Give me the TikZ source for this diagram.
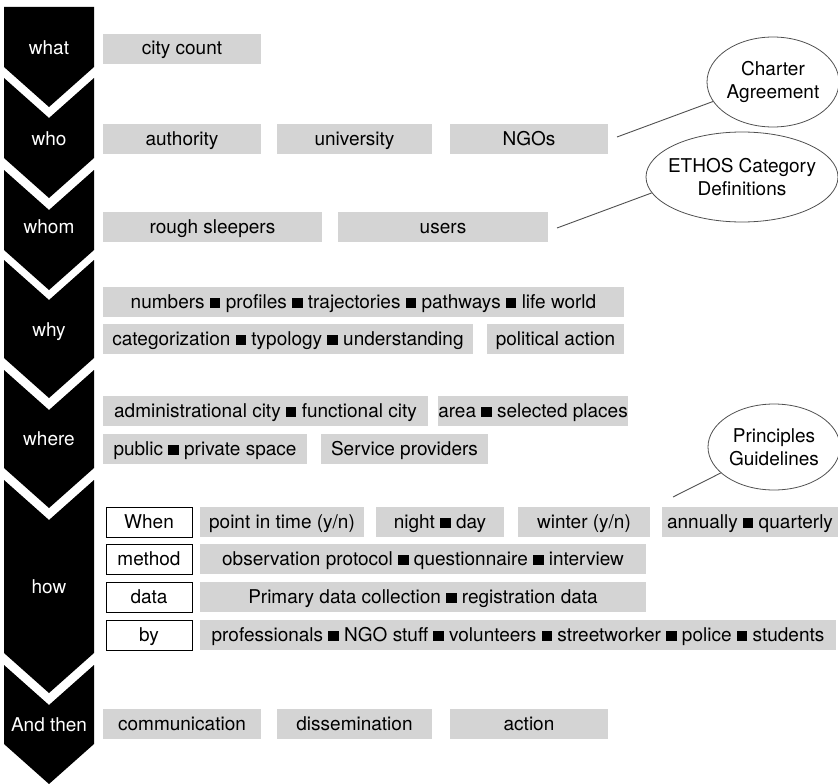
\documentclass[tikz,border=0pt]{standalone}
\usepackage{fontspec}
\setmainfont{TeX Gyre Heros}
\usetikzlibrary{shapes.geometric}
\definecolor{boxgray}{RGB}{212,212,212}
\definecolor{linegray}{RGB}{80,80,80}
\newcommand\blk{\rule{0.55em}{0.55em}}
\newcommand\chevblock[2]{\fill (4,#1) -- (49,#1+40) -- (94,#1) -- (94,#2) -- (49,#2+40) -- (4,#2) -- cycle;}
\begin{document}
\begin{tikzpicture}[x=1pt,y=-1pt,
  every node/.style={font=\fontsize{19}{23}\selectfont, inner sep=0pt},
  gbox/.style={fill=boxgray, minimum height=30pt, text height=16pt, text depth=4pt},
  wbox/.style={draw=black, line width=0.9pt, fill=white, minimum height=30pt, minimum width=86pt, text height=16pt, text depth=4pt},
  chevlabel/.style={text=white, text height=16pt, text depth=4pt},
  note/.style={ellipse, draw=linegray, line width=0.8pt, align=center},
  conn/.style={draw=linegray, line width=0.9pt}]
\useasboundingbox (0,0) rectangle (838,784);
% chevron column
\fill (4,7) -- (94,7) -- (94,67) -- (49,107) -- (4,67) -- cycle;
\chevblock{78}{158}
\chevblock{170}{250}
\chevblock{260}{358}
\chevblock{370}{468}
\chevblock{480}{653}
\chevblock{665}{744}
\node[chevlabel] (lwhat) at (49,49) {what};
\node[chevlabel] (lwho) at (49,139) {who};
\node[chevlabel] (lwhom) at (49,227) {whom};
\node[chevlabel] (lwhy) at (49,330) {why};
\node[chevlabel] (lwhere) at (49,439) {where};
\node[chevlabel] (lhow) at (49,587) {how};
\node[chevlabel] (lthen) at (49,725) {And then};
% what
\node[gbox, minimum width=158] (city) at (182,49) {city count};
% who
\node[gbox, minimum width=158] (auth) at (182,139) {authority};
\node[gbox, minimum width=155] (univ) at (354.5,139) {university};
\node[gbox, minimum width=158] (ngos) at (529,139) {NGOs};
% whom
\node[gbox, minimum width=219] (rough) at (212.5,227) {rough sleepers};
\node[gbox, minimum width=210] (users) at (443,227) {users};
% why
\node[gbox, minimum width=521] (numbers) at (363.5,302) {numbers \blk{} profiles \blk{} trajectories \blk{} pathways \blk{} life world};
\node[gbox, minimum width=370] (categ) at (288,339) {categorization \blk{} typology \blk{} understanding};
\node[gbox, minimum width=137] (polit) at (555.5,339) {political action};
% where
\node[gbox, minimum width=325] (admin) at (265.5,411) {administrational city \blk{} functional city};
\node[gbox, minimum width=182] (area) at (533,411) {area \blk{} selected places};
\node[gbox, minimum width=204] (public) at (205,449) {public \blk{} private space};
\node[gbox, minimum width=167] (service) at (404.5,449) {Service providers};
% how
\node[wbox] (when) at (149,522) {When};
\node[wbox] (method) at (149,559) {method};
\node[wbox] (data) at (149,597) {data};
\node[wbox] (by) at (149,635) {by};
\node[gbox, minimum width=164] (pit) at (282,522) {point in time (y/n)};
\node[gbox, minimum width=128] (nd) at (440,522) {night \blk{} day};
\node[gbox, minimum width=132] (winter) at (584,522) {winter (y/n)};
\node[gbox, minimum width=176] (annual) at (750,522) {annually \blk{} quarterly};
\node[gbox, minimum width=446] (obs) at (423,559) {observation protocol \blk{} questionnaire \blk{} interview};
\node[gbox, minimum width=446] (prim) at (423,597) {Primary data collection \blk{} registration data};
\node[gbox, minimum width=636] (prof) at (518,635) {professionals \blk{} NGO stuff \blk{} volunteers \blk{} streetworker \blk{} police \blk{} students};
% and then
\node[gbox, minimum width=158] (comm) at (182,724) {communication};
\node[gbox, minimum width=155] (diss) at (354.5,724) {dissemination};
\node[gbox, minimum width=158] (act) at (529,724) {action};
% notes
\node[note, minimum width=132, minimum height=90] (charter) at (773,82) {\makebox[0pt]{Charter}\\\makebox[0pt]{Agreement}};
\node[note, minimum width=192, minimum height=90] (ethos) at (742,177) {\makebox[0pt]{ETHOS Category}\\\makebox[0pt]{Definitions}};
\node[note, minimum width=132, minimum height=86] (princ) at (774,447) {\makebox[0pt]{Principles}\\\makebox[0pt]{Guidelines}};
\coordinate (c1) at (617,137);
\coordinate (c2) at (557,228);
\coordinate (c3) at (673,497);
\draw[conn] (c1) -- (charter.198);
\draw[conn] (c2) -- (ethos.190);
\draw[conn] (c3) -- (princ.206);
\end{tikzpicture}
\end{document}
